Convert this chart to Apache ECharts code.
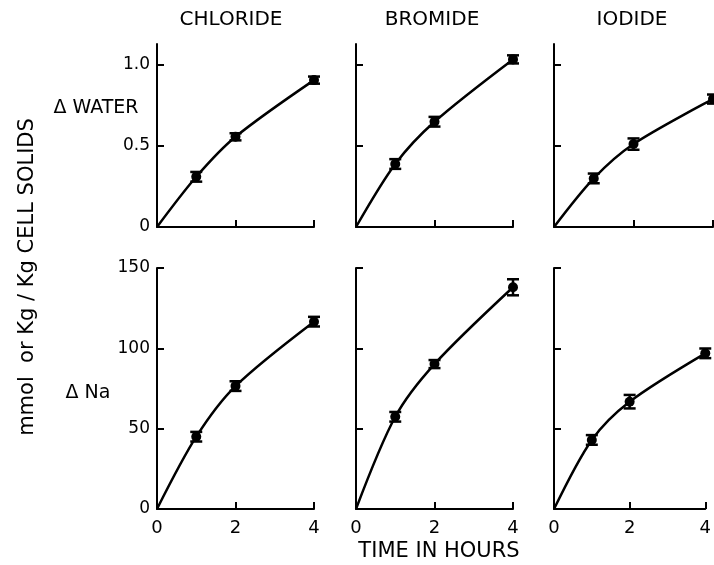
<!DOCTYPE html>
<html>
<head>
<meta charset="utf-8">
<script src="https://cdn.jsdelivr.net/npm/echarts@6/dist/echarts.min.js"></script>
<style>
  html, body { margin: 0; background: #fff; }
  #chart { width: 714px; height: 565px; }
</style>
</head>
<body>
<div id="chart"></div>
<script>
// time points (hours)
const hours = [0, 1, 2, 4]
const saltNames = ['CHLORIDE', 'BROMIDE', 'IODIDE']

// Δ water, Kg / Kg cell solids
const waterChloride = [0, 0.31, 0.557, 0.907]
const waterBromide = [0, 0.389, 0.65, 1.035]
const waterIodide = [0, 0.30, 0.512, 0.79]
const waterErrChloride = [0, 0.03, 0.022, 0.022]
const waterErrBromide = [0, 0.03, 0.03, 0.025]
const waterErrIodide = [0, 0.03, 0.035, 0.028]

// Δ Na, mmol / Kg cell solids
const naChloride = [0, 45, 76.5, 116.6]
const naBromide = [0, 57.4, 90.2, 138]
const naIodide = [0, 43, 66.8, 96.9]
const naErrChloride = [0, 3, 3, 3]
const naErrBromide = [0, 3, 2.5, 5]
const naErrIodide = [0, 3, 4.2, 3]

const waterTicks = [0, 0.5, 1]
const naTicks = [0, 50, 100, 150]

const ink = '#000'
const font = 'DejaVu Sans'

const panels = [
  { vals: waterChloride, errs: waterErrChloride },
  { vals: waterBromide, errs: waterErrBromide },
  { vals: waterIodide, errs: waterErrIodide },
  { vals: naChloride, errs: naErrChloride },
  { vals: naBromide, errs: naErrBromide },
  { vals: naIodide, errs: naErrIodide }
]

const colLeft = [157, 356, 554]
const colWidth = [157, 157, 159]
const rowTop = [44, 268]
const rowHeight = [183, 241]

const grid = [], xAxis = [], yAxis = [], series = []

panels.forEach((p, i) => {
  const row = Math.floor(i / 3)
  const col = i % 3
  grid.push({ left: colLeft[col], top: rowTop[row], width: colWidth[col], height: rowHeight[row] })
  xAxis.push({
    type: 'value', gridIndex: i, min: 0, max: 4, interval: 2,
    axisLine: { lineStyle: { color: ink, width: 2 } },
    axisTick: { inside: true, length: 7, lineStyle: { color: ink, width: 2 } },
    axisLabel: { show: row === 1, margin: 10, color: ink, fontFamily: font, fontSize: 18 },
    splitLine: { show: false }
  })
  const ticks = row === 0 ? waterTicks : naTicks
  yAxis.push({
    type: 'value', gridIndex: i, min: 0, max: row === 0 ? 1.13 : 150,
    axisLine: { show: true, lineStyle: { color: ink, width: 2 } },
    axisTick: { inside: true, length: 7, customValues: ticks.slice(1), lineStyle: { color: ink, width: 2 } },
    axisLabel: {
      show: col === 0, customValues: ticks, margin: 7, color: ink, fontFamily: font, fontSize: 17,
      formatter: v => (row === 0 && v !== 0) ? v.toFixed(1) : String(v)
    },
    splitLine: { show: false }
  })
  const pts = hours.map((h, k) => [h, p.vals[k], p.errs[k]])
  series.push({
    type: 'line', xAxisIndex: i, yAxisIndex: i, data: pts.map(d => [d[0], d[1]]),
    smooth: 0.3, showSymbol: false,
    lineStyle: { color: ink, width: 2.5 }, silent: true
  })
  series.push({
    type: 'custom', xAxisIndex: i, yAxisIndex: i, data: pts.slice(1),
    encode: { x: 0, y: 1 },
    renderItem: (params, api) => {
      const x = api.value(0), y = api.value(1), e = api.value(2)
      const hi = api.coord([x, y + e]), lo = api.coord([x, y - e])
      const hw = 6
      const st = { stroke: ink, lineWidth: 2.5 }
      return {
        type: 'group', children: [
          { type: 'line', shape: { x1: hi[0], y1: hi[1], x2: lo[0], y2: lo[1] }, style: st },
          { type: 'line', shape: { x1: hi[0] - hw, y1: hi[1], x2: hi[0] + hw, y2: hi[1] }, style: st },
          { type: 'line', shape: { x1: lo[0] - hw, y1: lo[1], x2: lo[0] + hw, y2: lo[1] }, style: st }
        ]
      }
    },
    silent: true
  })
  series.push({
    type: 'scatter', xAxisIndex: i, yAxisIndex: i, data: pts.slice(1).map(d => [d[0], d[1]]),
    symbol: 'circle', symbolSize: 10, itemStyle: { color: ink, opacity: 1 }, silent: true
  })
})

const txt = (x, y, text, size, extra) => Object.assign({
  type: 'text', x, y,
  style: { text, fill: ink, font: `${size}px "${font}"`, align: 'center', verticalAlign: 'middle' }
}, extra || {})

const graphic = [
  txt(231, 20, saltNames[0], 20),
  txt(432, 20, saltNames[1], 20),
  txt(632, 20, saltNames[2], 20),
  txt(96, 108, 'Δ WATER', 19),
  txt(88, 393, 'Δ Na', 19),
  txt(439, 552, 'TIME IN HOURS', 21),
  txt(28, 277, 'mmol  or Kg / Kg CELL SOLIDS', 21, { rotation: Math.PI / 2 })
]

const chart = echarts.init(document.getElementById('chart'))
chart.setOption({
  backgroundColor: '#fff',
  animation: false,
  grid, xAxis, yAxis, series, graphic
})
</script>
</body>
</html>
